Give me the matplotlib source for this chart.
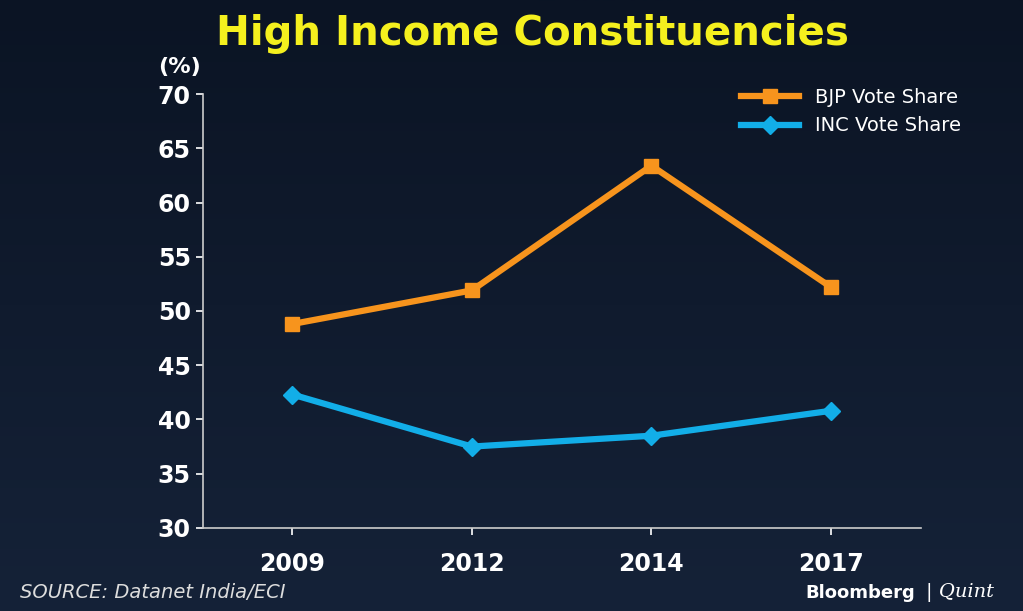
import matplotlib
matplotlib.use("Agg")
import matplotlib.pyplot as plt
import numpy as np

years = ["2009", "2012", "2014", "2017"]
bjp = [48.8, 51.9, 63.4, 52.2]
inc = [42.3, 37.5, 38.5, 40.8]
yticks = [30, 35, 40, 45, 50, 55, 60, 65, 70]

fig = plt.figure(figsize=(10.23, 6.11), dpi=100)
bg = fig.add_axes([0, 0, 1, 1], zorder=-1)
grad = np.linspace(0, 1, 256).reshape(-1, 1)
bg.imshow(grad, aspect="auto", cmap=matplotlib.colors.LinearSegmentedColormap.from_list("g", ["#0b1424", "#152238"]), extent=[0, 1, 0, 1])
bg.axis("off")

ax = fig.add_axes([0.198, 0.136, 0.702, 0.71])
ax.set_facecolor("none")
x = np.arange(len(years))
ax.plot(x, bjp, color="#f7941d", lw=4.5, marker="s", ms=10, label="BJP Vote Share")
ax.plot(x, inc, color="#12aee8", lw=4.5, marker="D", ms=9, label="INC Vote Share")
ax.set_xlim(-0.5, 3.5)
ax.set_ylim(30, 70)
ax.set_yticks(yticks)
ax.set_xticks(x)
ax.set_xticklabels(years)
for s in ["top", "right"]:
    ax.spines[s].set_visible(False)
for s in ["left", "bottom"]:
    ax.spines[s].set_color("#cccccc")
    ax.spines[s].set_linewidth(1.2)
ax.tick_params(colors="white", labelsize=17, length=5, width=1.2)
for lab in ax.get_xticklabels() + ax.get_yticklabels():
    lab.set_fontweight("bold")
ax.tick_params(axis="x", pad=12)
leg = ax.legend(loc="upper right", frameon=False, fontsize=14, labelcolor="white",
                handlelength=3, bbox_to_anchor=(1.08, 1.055))

fig.text(0.52, 0.945, "High Income Constituencies", color="#f5f01e", fontsize=29,
         fontweight="heavy", ha="center", va="center")
fig.text(0.155, 0.89, "(%)", color="white", fontsize=16, fontweight="bold", va="center")
fig.text(0.02, 0.03, "SOURCE: Datanet India/ECI", color="#dddddd", fontsize=14,
         style="italic", va="center")
fig.text(0.895, 0.03, "Bloomberg", color="white", fontsize=13, fontweight="bold", ha="right", va="center")
fig.text(0.905, 0.03, "| Quint", color="white", fontsize=14, family="serif", style="italic", ha="left", va="center")
fig.savefig("out.png", dpi=100)
